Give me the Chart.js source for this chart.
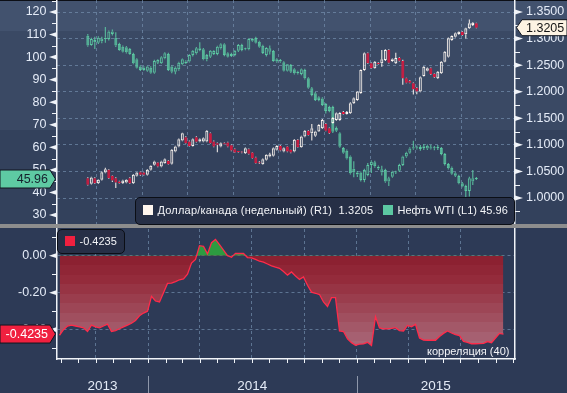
<!DOCTYPE html>
<html><head><meta charset="utf-8">
<script src="https://cdn.jsdelivr.net/npm/chart.js@4.4.1/dist/chart.umd.min.js"></script>
<style>
html,body{margin:0;padding:0}
body{width:567px;height:393px;overflow:hidden;position:relative;background:#2d3a56;font-family:"Liberation Sans",Arial,sans-serif}
#topBg{position:absolute;left:0;top:0;width:567px;height:224px;background:linear-gradient(to bottom,#0c0f16 0,#0c0f16 1px,#42526e 1px,#42526e 31px,#3a4964 31px,#3a4964 130px,#33415c 130px,#33415c 224px)}
#topC{position:absolute;left:0;top:0}
#sep{position:absolute;left:0;top:224px;width:567px;height:4px;background:#8d8d8d}
#botC{position:absolute;left:0;top:228px}
.legend{position:absolute;box-sizing:border-box;border:1.5px solid #0b0e15;border-radius:5px;background:#262f46;color:#f4f5f8;font-size:11px;line-height:13px;white-space:pre}
.sw{position:absolute;width:10px;height:10px}
.t{position:absolute}
#corrName{position:absolute;left:427px;top:345px;color:#f4f5f8;font-size:11px;line-height:12px;white-space:pre}
</style></head><body>
<div id="topBg"></div>
<canvas id="topC" width="567" height="224"></canvas>
<div id="sep"></div>
<canvas id="botC" width="567" height="165"></canvas>
<div class="legend" style="left:135px;top:197px;width:380px;height:28px">
 <div class="sw" style="left:6.5px;top:6.5px;background:#fff6ee"></div>
 <div class="t" style="left:21.5px;top:5.5px;letter-spacing:0.2px" id="n1">Доллар/канада (недельный) (R1)</div>
 <div class="t" style="left:202.5px;top:5.5px;letter-spacing:0.2px" id="v1"></div>
 <div class="sw" style="left:246.5px;top:6.5px;background:#5cc8a2"></div>
 <div class="t" style="left:261.5px;top:5.5px" id="n2">Нефть WTI (L1)</div>
 <div class="t" style="right:6px;top:5.5px;letter-spacing:0.1px" id="v2"></div>
</div>
<div class="legend" style="left:57px;top:229px;width:68px;height:25px">
 <div class="sw" style="left:6.5px;top:5.5px;background:#f0203f"></div>
 <div class="t" style="left:21.5px;top:5px" id="v3"></div>
</div>
<div id="corrName">корреляция (40)</div>
<script>
// ---------- data ----------
const startDate = '2013-07-30'; // week 0
const wtiOpen  = [109.5,105.4,106.6,106.4,107.0,108.0,108.0,110.2,108.6,105.8,104.6,104.4,103.6,101.4,99.0,95.8,95.3,94.0,95.3,93.1,97.5,97.3,99.5,101.4,95.8,93.5,94.6,96.8,97.3,98.0,100.9,101.7,103.2,103.5,100.9,100.2,101.4,101.4,103.9,105.7,101.7,101.4,100.9,102.8,105.4,103.6,103.5,107.2,108.5,106.8,105.0,100.9,102.4,102.7,99.0,98.7,97.7,94.0,96.5,94.6,93.5,92.5,94.3,90.6,86.2,84.0,82.2,81.7,79.2,77.9,77.9,68.6,66.2,59.7,58.5,55.9,50.5,48.8,48.8,45.5,47.7,52.2,53.4,51.4,48.8,50.0,44.8,47.0,48.8,49.6,52.2,55.9,57.6,59.5,60.0,59.3,59.7,59.5,60.0,59.6,59.7,59.7,57.0,52.6,51.0,48.5,47.3,44.1,42.9,40.6,44.8,46.2];
const wtiHigh  = [110.2,108.6,109.0,109.2,109.0,113.4,111.8,112.2,111.0,106.4,105.2,104.9,104.0,101.9,99.5,96.4,96.0,96.2,96.0,98.8,99.1,100.4,102.1,101.9,96.3,95.8,97.9,99.4,98.6,101.3,103.2,104.5,106.6,104.0,101.4,103.2,103.0,105.0,106.2,106.1,102.2,101.9,103.2,105.8,105.9,104.1,108.4,108.4,109.0,107.2,105.5,104.4,105.2,103.2,99.5,99.2,98.2,97.0,97.0,95.1,94.0,94.9,94.8,91.1,86.7,84.5,82.7,82.2,79.7,78.4,78.4,69.2,66.7,60.2,59.0,56.4,53.8,49.5,49.3,50.5,53.0,54.3,54.0,51.9,51.8,50.5,47.0,49.6,49.6,52.7,56.3,58.0,60.0,62.9,60.8,61.0,61.5,61.3,61.2,60.6,61.0,60.2,57.5,53.1,51.5,49.0,47.8,44.6,43.4,47.0,50.0,46.8];
const wtiLow   = [104.6,105.0,103.6,105.8,106.2,106.4,107.4,109.6,104.5,102.8,102.0,101.6,101.0,96.8,94.9,93.8,93.9,93.5,92.6,92.6,97.0,96.9,99.0,93.8,92.8,92.4,94.0,96.4,96.9,97.6,100.3,101.2,102.6,98.6,98.2,99.6,100.9,100.8,103.4,100.4,99.8,100.0,100.4,102.3,102.6,103.0,103.0,106.8,106.0,104.2,101.4,100.3,101.2,97.9,97.5,97.5,93.6,93.6,93.0,92.3,92.3,92.0,90.1,86.0,82.7,80.5,80.4,78.3,75.0,75.6,66.4,66.8,59.8,57.1,54.6,48.0,46.7,46.8,44.9,44.5,47.2,48.6,51.0,50.0,47.5,44.3,42.9,46.5,48.2,49.1,51.7,55.4,57.1,58.9,59.0,58.5,58.8,58.8,59.0,58.7,58.8,56.5,52.0,50.2,47.8,46.9,43.6,42.3,38.0,38.2,43.3,45.5];
const wtiClose = [105.1,108.0,107.6,108.6,108.3,108.6,111.3,111.3,105.1,103.2,102.4,102.1,101.4,97.3,95.3,94.3,94.3,95.8,93.1,98.3,98.7,99.9,101.7,94.3,93.5,95.3,97.5,99.0,98.0,100.9,102.8,103.9,103.9,99.0,99.0,102.8,102.7,104.6,105.7,100.9,100.2,100.5,102.8,105.4,103.2,103.5,108.0,108.0,106.4,104.6,101.8,104.0,103.9,98.3,98.0,98.0,94.0,96.8,93.5,92.8,92.8,94.6,90.6,86.4,83.2,81.0,81.0,78.8,76.1,76.1,66.9,67.3,60.3,57.6,55.1,48.5,48.8,48.0,45.5,50.0,52.2,53.6,51.6,50.6,50.3,44.8,46.3,49.2,49.0,52.2,55.9,57.6,59.5,60.0,59.6,60.2,60.5,60.7,59.5,59.8,60.2,57.0,52.6,50.7,48.3,47.4,44.1,42.6,40.6,46.3,46.3,45.96];

const cadOpen  = [1.0374,1.0267,1.0374,1.0280,1.0342,1.0479,1.0530,1.0417,1.0374,1.0310,1.0280,1.0291,1.0374,1.0280,1.0417,1.0487,1.0479,1.0436,1.0530,1.0624,1.0667,1.0592,1.0656,1.0699,1.0643,1.0874,1.0968,1.1083,1.1145,1.1064,1.0981,1.1145,1.1064,1.1064,1.1064,1.1220,1.1064,1.1032,1.0968,1.1032,1.1045,1.0994,1.0919,1.0874,1.0874,1.0844,1.0919,1.0855,1.0761,1.0662,1.0637,1.0718,1.0780,1.0793,1.0906,1.0981,1.0874,1.0968,1.0906,1.0874,1.1094,1.0957,1.1156,1.1268,1.1220,1.1170,1.1250,1.1314,1.1394,1.1314,1.1413,1.1470,1.1470,1.1620,1.1583,1.1596,1.1784,1.1846,1.1977,1.2410,1.2724,1.2536,1.2442,1.2547,1.2536,1.2598,1.2786,1.2579,1.2536,1.2636,1.2579,1.2254,1.2203,1.2160,1.2077,1.2002,1.2297,1.2397,1.2442,1.2334,1.2254,1.2348,1.2566,1.2660,1.2974,1.3036,1.3086,1.3130,1.3081,1.3193,1.3256,1.3288];
const cadHigh  = [1.0390,1.0400,1.0390,1.0355,1.0500,1.0570,1.0545,1.0430,1.0390,1.0325,1.0345,1.0355,1.0390,1.0450,1.0490,1.0500,1.0490,1.0545,1.0615,1.0700,1.0680,1.0700,1.0745,1.0715,1.0920,1.0985,1.1120,1.1230,1.1160,1.1080,1.1120,1.1160,1.1120,1.1140,1.1280,1.1235,1.1080,1.1045,1.1045,1.1045,1.1060,1.1005,1.0930,1.0885,1.0885,1.0950,1.0930,1.0865,1.0775,1.0690,1.0745,1.0825,1.0850,1.0950,1.0995,1.0995,1.0950,1.0980,1.0915,1.1110,1.1110,1.1170,1.1280,1.1280,1.1394,1.1265,1.1390,1.1485,1.1405,1.1325,1.1520,1.1610,1.1615,1.1635,1.1635,1.1800,1.1890,1.2015,1.2420,1.2740,1.2740,1.2550,1.2580,1.2560,1.2786,1.2800,1.2800,1.2625,1.2735,1.2650,1.2600,1.2265,1.2215,1.2175,1.2090,1.2285,1.2485,1.2455,1.2455,1.2345,1.2390,1.2580,1.2765,1.3020,1.3060,1.3115,1.3140,1.3145,1.3205,1.3360,1.3310,1.3300];
const cadLow   = [1.0235,1.0255,1.0265,1.0265,1.0330,1.0465,1.0360,1.0300,1.0190,1.0270,1.0265,1.0280,1.0265,1.0265,1.0405,1.0420,1.0425,1.0425,1.0520,1.0610,1.0580,1.0580,1.0645,1.0625,1.0630,1.0860,1.0955,1.1070,1.1020,1.0970,1.0970,1.1045,1.1050,1.1050,1.1050,1.1020,1.0955,1.0860,1.0955,1.1005,1.0955,1.0880,1.0845,1.0855,1.0840,1.0830,1.0820,1.0740,1.0645,1.0640,1.0625,1.0705,1.0765,1.0780,1.0895,1.0880,1.0860,1.0860,1.0840,1.0860,1.0945,1.0945,1.1145,1.1175,1.1083,1.1155,1.1240,1.1300,1.1255,1.1205,1.1400,1.1455,1.1455,1.1570,1.1570,1.1580,1.1770,1.1830,1.1960,1.2395,1.2520,1.2430,1.2430,1.2510,1.2472,1.2580,1.2530,1.2565,1.2520,1.2570,1.2130,1.2160,1.2160,1.1950,1.1953,1.1990,1.2285,1.2385,1.2320,1.2260,1.2240,1.2335,1.2555,1.2645,1.2960,1.3020,1.3070,1.3055,1.3000,1.3180,1.3235,1.3195];
const cadClose = [1.0248,1.0385,1.0280,1.0342,1.0487,1.0543,1.0374,1.0329,1.0291,1.0280,1.0329,1.0342,1.0280,1.0436,1.0479,1.0436,1.0436,1.0530,1.0605,1.0686,1.0592,1.0686,1.0731,1.0637,1.0906,1.0968,1.1107,1.1220,1.1032,1.0981,1.1107,1.1058,1.1107,1.1126,1.1268,1.1032,1.0968,1.1000,1.1032,1.1013,1.0968,1.0893,1.0855,1.0868,1.0855,1.0938,1.0831,1.0750,1.0656,1.0656,1.0731,1.0812,1.0825,1.0938,1.0981,1.0893,1.0938,1.0874,1.0855,1.1094,1.0957,1.1156,1.1268,1.1188,1.1314,1.1250,1.1376,1.1470,1.1268,1.1220,1.1507,1.1596,1.1601,1.1583,1.1620,1.1784,1.1878,1.2002,1.2410,1.2724,1.2536,1.2442,1.2566,1.2522,1.2611,1.2786,1.2547,1.2611,1.2636,1.2585,1.2254,1.2171,1.2171,1.2047,1.2002,1.2272,1.2472,1.2442,1.2334,1.2272,1.2378,1.2566,1.2754,1.3006,1.3049,1.3100,1.3130,1.3068,1.3193,1.3288,1.3299,1.3205];

const correlation = [-0.43,-0.40,-0.38,-0.375,-0.38,-0.385,-0.39,-0.41,-0.375,-0.385,-0.39,-0.38,-0.37,-0.41,-0.405,-0.395,-0.385,-0.375,-0.365,-0.35,-0.325,-0.31,-0.30,-0.22,-0.245,-0.25,-0.20,-0.15,-0.148,-0.14,-0.13,-0.125,-0.10,-0.04,-0.02,0.054,0.05,0.01,0.07,0.088,0.06,0.03,0.0,-0.008,0.013,0.012,0.012,-0.01,-0.012,-0.02,-0.03,-0.035,-0.045,-0.055,-0.062,-0.068,-0.085,-0.105,-0.088,-0.11,-0.128,-0.115,-0.16,-0.197,-0.203,-0.21,-0.25,-0.275,-0.227,-0.227,-0.407,-0.41,-0.45,-0.47,-0.484,-0.478,-0.477,-0.468,-0.485,-0.33,-0.39,-0.396,-0.396,-0.393,-0.389,-0.405,-0.407,-0.377,-0.384,-0.371,-0.445,-0.456,-0.457,-0.457,-0.457,-0.437,-0.42,-0.407,-0.418,-0.427,-0.432,-0.463,-0.468,-0.476,-0.476,-0.475,-0.474,-0.464,-0.47,-0.445,-0.42,-0.4235];

const leftTicks  = [120,110,100,90,80,70,60,50,40,30];
const leftMinor  = [125,115,105,95,85,75,65,55,45,35];
const rightTicks = [1.35,1.30,1.25,1.20,1.15,1.10,1.05,1.00];
const rightMinor = [1.325,1.275,1.225,1.175,1.125,1.075,1.025,0.975];
const corrTicks  = [0,-0.2,-0.4];
const corrMinor  = [0.1,-0.1,-0.3,-0.5];
const quarterDates = ['2013-10-01','2014-01-01','2014-04-01','2014-07-01','2014-10-01','2015-01-01','2015-04-01','2015-07-01'];
const yearLabels = ['2013','2014','2015'];
const yearStarts = ['2014-01-01','2015-01-01'];

// ---------- helpers ----------
const DAY = 864e5, base = Date.parse(startDate + 'T00:00:00Z');
const idx = d => (Date.parse(d + 'T00:00:00Z') - base) / DAY / 7;
const monthStarts = [];
for (let y = 2013; y <= 2015; y++) for (let m = 1; m <= 12; m++) {
  const s = y + '-' + String(m).padStart(2, '0') + '-01';
  const v = idx(s); if (v > -0.6 && v < 114) monthStarts.push(s);
}
const N = wtiClose.length;
const weeks = Array.from({length: N}, (_, i) => i);
const XMIN = -0.625, XMAX = XMIN + 458 / 4;
const FONT = '"Liberation Sans", Arial, sans-serif';
const TXT = '#e4ebf7', AXIS = '#f0f3f8', GRID = 'rgba(120,148,178,0.65)';
Chart.defaults.font.family = FONT;

function candleSets(O, H, L, C, axis, upCol, downCol, wickCol) {
  const isUp = i => C[i] >= O[i];
  return [
    {data: weeks.map(i => ({x: i, y: [O[i], C[i]]})), yAxisID: axis, barThickness: 3, borderWidth: 1,
     minBarLength: 1, borderSkipped: false, inflateAmount: 0, grouped: false,
     borderColor: c => isUp(c.dataIndex) ? upCol : downCol,
     backgroundColor: c => isUp(c.dataIndex) ? 'rgba(0,0,0,0)' : downCol},
    {data: weeks.map(i => ({x: i, y: [Math.max(O[i], C[i]), H[i]]})), yAxisID: axis, barThickness: 1,
     borderWidth: 0, inflateAmount: 0, grouped: false, backgroundColor: wickCol},
    {data: weeks.map(i => ({x: i, y: [L[i], Math.min(O[i], C[i])]})), yAxisID: axis, barThickness: 1,
     borderWidth: 0, inflateAmount: 0, grouped: false, backgroundColor: wickCol}
  ];
}
const qTicks = s => { s.ticks = quarterDates.map(d => ({value: idx(d)})); };
const noPad = w => s => { if (w !== undefined) s.width = w; s.paddingTop = 0; s.paddingBottom = 0; };

function tag(ctx, side, y, h, fill, txt, txtCol) {
  ctx.save();
  ctx.beginPath();
  if (side === 'left') {
    ctx.moveTo(0, y - h/2); ctx.lineTo(50, y - h/2); ctx.lineTo(55.5, y); ctx.lineTo(50, y + h/2); ctx.lineTo(0, y + h/2);
  } else {
    ctx.moveTo(516.5, y); ctx.lineTo(522, y - h/2); ctx.lineTo(567, y - h/2); ctx.lineTo(567, y + h/2); ctx.lineTo(522, y + h/2);
  }
  ctx.closePath();
  ctx.fillStyle = fill; ctx.fill();
  ctx.strokeStyle = '#10151f'; ctx.lineWidth = 1; ctx.stroke();
  ctx.fillStyle = txtCol; ctx.font = '12.5px ' + FONT; ctx.textBaseline = 'middle';
  if (side === 'left') { ctx.textAlign = 'right'; ctx.fillText(txt, 48, y + 0.5); }
  else { ctx.textAlign = 'left'; ctx.fillText(txt, 526, y + 0.5); }
  ctx.restore();
}
function axisMarks(ctx, scale, majors, minors, side) {
  const x0 = side === 'left' ? scale.right : scale.left;
  ctx.save(); ctx.fillStyle = AXIS; ctx.strokeStyle = AXIS; ctx.lineWidth = 1;
  majors.forEach(v => {
    const y = scale.getPixelForValue(v);
    if (y < scale.top - 1 || y > scale.bottom + 1) return;
    ctx.beginPath();
    if (side === 'left') { ctx.moveTo(x0 - 8, y); ctx.lineTo(x0, y - 2.6); ctx.lineTo(x0, y + 2.6); }
    else { ctx.moveTo(x0 + 8, y); ctx.lineTo(x0, y - 2.6); ctx.lineTo(x0, y + 2.6); }
    ctx.closePath(); ctx.fill();
  });
  minors.forEach(v => {
    const y = Math.round(scale.getPixelForValue(v)) + 0.5;
    if (y < scale.top || y > scale.bottom) return;
    ctx.beginPath();
    if (side === 'left') { ctx.moveTo(x0 - 5, y); ctx.lineTo(x0, y); } else { ctx.moveTo(x0, y); ctx.lineTo(x0 + 5, y); }
    ctx.stroke();
  });
  ctx.restore();
}

// ---------- top chart ----------
const topDecor = {
  id: 'topDecor',
  afterDraw(chart) {
    const ctx = chart.ctx;
    axisMarks(ctx, chart.scales.yL, leftTicks, leftMinor, 'left');
    axisMarks(ctx, chart.scales.yR, rightTicks, rightMinor, 'right');
    tag(ctx, 'left', chart.scales.yL.getPixelForValue(wtiClose[N-1]), 18, '#5ecaa3', wtiClose[N-1].toFixed(2), '#16222e');
    tag(ctx, 'right', chart.scales.yR.getPixelForValue(cadClose[N-1]), 16, '#fdf3e3', cadClose[N-1].toFixed(4), '#141414');
  }
};
new Chart(document.getElementById('topC'), {
  type: 'bar',
  data: {datasets: [
    ...candleSets(cadOpen, cadHigh, cadLow, cadClose, 'yR', '#fff8f2', '#e5163c', '#fff8f2'),
    ...candleSets(wtiOpen, wtiHigh, wtiLow, wtiClose, 'yL', '#5cc8a2', '#5cc8a2', '#5cc8a2')
  ]},
  options: {
    responsive: false, animation: false, devicePixelRatio: 1,
    layout: {padding: 0},
    plugins: {legend: {display: false}, tooltip: {enabled: false}},
    scales: {
      x: {type: 'linear', min: XMIN, max: XMAX, afterBuildTicks: qTicks,
          ticks: {display: false}, grid: {color: GRID, drawTicks: false},
          border: {display: false, dash: [3, 3]}, afterFit: s => { s.height = 0; s.paddingLeft = 0; s.paddingRight = 0; }},
      yL: {position: 'left', min: 26.01, max: 125.32,
           afterBuildTicks: s => { s.ticks = leftTicks.map(v => ({value: v})); },
           ticks: {color: TXT, font: {size: 12.5}, padding: 10.5, callback: v => String(v)},
           grid: {display: false, drawTicks: false}, border: {color: AXIS, width: 1.5},
           afterFit: noPad(57)},
      yR: {position: 'right', min: 0.9511, max: 1.3726,
           afterBuildTicks: s => { s.ticks = rightTicks.map(v => ({value: v})); },
           ticks: {color: TXT, font: {size: 12.5}, padding: 11, callback: v => v.toFixed(4)},
           grid: {color: GRID, drawTicks: false}, border: {color: AXIS, width: 1.5, dash: [3, 3]},
           afterFit: noPad(52)}
    }
  },
  plugins: [topDecor]
});

// ---------- bottom chart ----------
const bandColors = ['#8c2131','#902636','#942b3b','#973444','#9a3d4d','#9d4656','#a04f5f','#a35868','#a66071','#a86778','#a96b7b'];
function bandFill(c) {
  const ch = c.chart, s = ch.scales && ch.scales.yB;
  if (!ch.chartArea || !s) return bandColors[5];
  const y0 = s.getPixelForValue(0), y1 = s.getPixelForValue(-0.56);
  const g = ch.ctx.createLinearGradient(0, y0, 0, y1);
  const n = bandColors.length, step = 9.5 / (y1 - y0);
  bandColors.forEach((col, k) => {
    const a = Math.min(1, k * step), b = Math.min(1, (k + 1) * step - 0.0001);
    g.addColorStop(a, col); g.addColorStop(k === n - 1 ? 1 : b, col);
  });
  return g;
}
const botDecor = {
  id: 'botDecor',
  afterDraw(chart) {
    const ctx = chart.ctx, x = chart.scales.x, yB = chart.scales.yB, a = chart.chartArea;
    axisMarks(ctx, yB, corrTicks, corrMinor, 'left');
    ctx.save();
    ctx.strokeStyle = AXIS; ctx.lineWidth = 1;
    monthStarts.forEach(d => {
      const px = Math.round(x.getPixelForValue(idx(d))) + 0.5;
      if (px < a.left || px > a.right) return;
      ctx.beginPath(); ctx.moveTo(px, a.bottom); ctx.lineTo(px, a.bottom + 4); ctx.stroke();
    });
    const bounds = [a.left, ...yearStarts.map(d => x.getPixelForValue(idx(d))), a.right];
    ctx.strokeStyle = '#8e97aa';
    yearStarts.forEach(d => {
      const px = Math.round(x.getPixelForValue(idx(d))) + 0.5;
      ctx.beginPath(); ctx.moveTo(px, a.bottom + 17); ctx.lineTo(px, chart.height); ctx.stroke();
    });
    ctx.fillStyle = TXT; ctx.font = '13.5px ' + FONT; ctx.textAlign = 'center'; ctx.textBaseline = 'alphabetic';
    yearLabels.forEach((t, k) => ctx.fillText(t, (bounds[k] + bounds[k + 1]) / 2, a.bottom + 31));
    ctx.restore();
    const last = correlation[correlation.length - 1];
    tag(ctx, 'left', yB.getPixelForValue(last), 18, '#f0203f', last.toFixed(4), '#ffffff');
  }
};
new Chart(document.getElementById('botC'), {
  type: 'line',
  data: {datasets: [{
    data: weeks.map(i => ({x: i, y: correlation[i]})), yAxisID: 'yB',
    borderColor: '#ff2b4a', borderWidth: 1.3, pointRadius: 0, tension: 0,
    backgroundColor: bandFill,
    fill: {target: {value: 0}, above: '#2d9b40'}
  }]},
  options: {
    responsive: false, animation: false, devicePixelRatio: 1,
    layout: {padding: {top: 1}},
    plugins: {legend: {display: false}, tooltip: {enabled: false}},
    scales: {
      x: {type: 'linear', min: XMIN, max: XMAX, afterBuildTicks: qTicks,
          ticks: {display: false}, grid: {color: GRID, drawTicks: false},
          border: {display: true, color: AXIS, width: 1.5, dash: [3, 3]},
          afterFit: s => { s.height = 34; s.paddingLeft = 0; s.paddingRight = 0; }},
      yB: {position: 'left', min: -0.5584, max: 0.1443,
           afterBuildTicks: s => { s.ticks = corrTicks.map(v => ({value: v})); },
           ticks: {color: TXT, font: {size: 12.5}, padding: 10.5, callback: v => v.toFixed(2)},
           grid: {color: GRID, drawTicks: false}, border: {color: AXIS, width: 1.5, dash: [3, 3]},
           afterFit: noPad(57)},
      yB2: {position: 'right', min: -0.5584, max: 0.1443,
            ticks: {display: false}, grid: {display: false, drawTicks: false},
            border: {color: AXIS, width: 1.5}, afterFit: noPad(52)}
    }
  },
  plugins: [botDecor]
});

document.getElementById('v1').textContent = cadClose[N-1].toFixed(4);
document.getElementById('v2').textContent = wtiClose[N-1].toFixed(2);
document.getElementById('v3').textContent = correlation[N-1].toFixed(4);
</script>
</body></html>
